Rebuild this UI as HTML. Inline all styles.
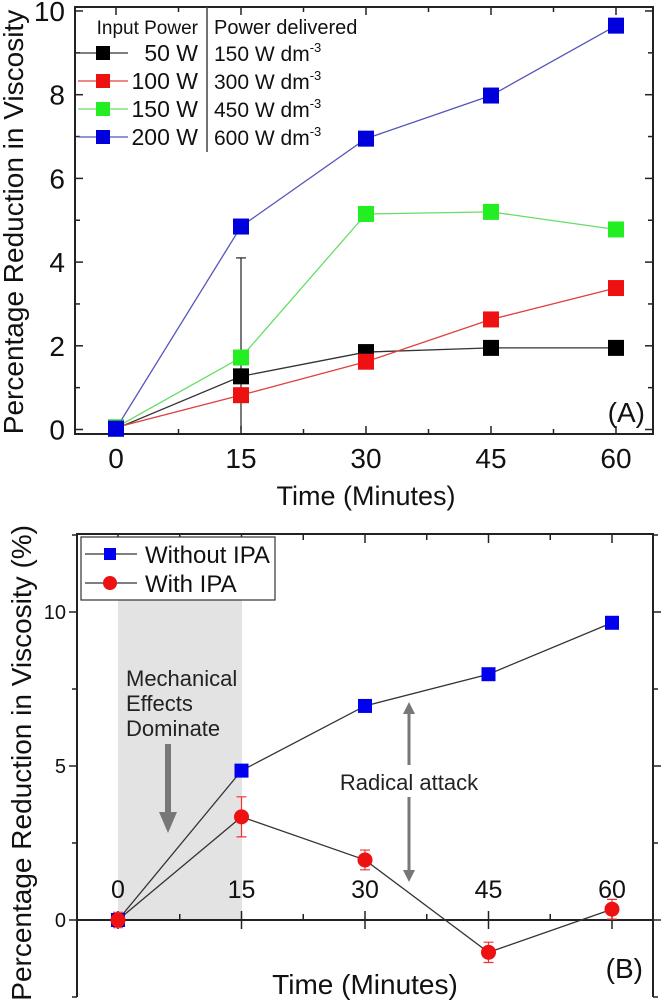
<!DOCTYPE html>
<html><head><meta charset="utf-8"><style>
html,body{margin:0;padding:0;background:#fff}
svg{display:block;font-family:"Liberation Sans",Arial,sans-serif}
</style></head><body>
<svg id="s" width="661" height="1006" viewBox="0 0 661 1006">
<g id="gA"></g>
<g id="gB"></g>
</svg>
<script>
// Chart A data
const timesA = [0, 15, 30, 45, 60];
const w50 = [0.02, 1.27, 1.85, 1.95, 1.95];
const w100 = [0.05, 0.82, 1.62, 2.63, 3.38];
const w150 = [0.05, 1.72, 5.15, 5.2, 4.78];
const w200 = [0.02, 4.85, 6.95, 7.98, 9.65];
const yTicksA = [0, 2, 4, 6, 8, 10];
const xTicks = [0, 15, 30, 45, 60];
// Chart B data
const timesB = [0, 15, 30, 45, 60];
const withoutIPA = [0, 4.85, 6.95, 7.98, 9.65];
const withIPA = [0, 3.35, 1.95, -1.05, 0.35];
const withIPAerr = [0.25, 0.65, 0.32, 0.33, 0.32];
const yTicksB = [0, 5, 10];

const NS = "http://www.w3.org/2000/svg";
function mk(parent, tag, attrs, text){
  const e = document.createElementNS(NS, tag);
  for (const k in attrs) e.setAttribute(k, attrs[k]);
  if (text !== undefined) e.textContent = text;
  parent.appendChild(e);
  return e;
}
// ---------- Chart A ----------
const A = document.getElementById('gA');
const xA = t => 116 + (t/60)*500;
const yA = v => 429.5 - v*41.85;
let e;
e = mk(A,'rect',{x:75,y:7,width:578,height:427,fill:'none',stroke:'#222','stroke-width':2});
 
for (let t=0; t<=67.5; t+=7.5){
  const L = (t%15===0)?8:5;
  e = mk(A,'line',{x1:xA(t),x2:xA(t),y1:434,y2:434-L,stroke:'#222','stroke-width':1.5});
   
  e = mk(A,'line',{x1:xA(t),x2:xA(t),y1:7,y2:7+L,stroke:'#222','stroke-width':1.5});
   
}
for (let v=0; v<=10; v+=1){
  const L = (v%2===0)?8:5;
  e = mk(A,'line',{x1:75,x2:75+L,y1:yA(v),y2:yA(v),stroke:'#222','stroke-width':1.5});
   
  e = mk(A,'line',{x1:653,x2:653-L,y1:yA(v),y2:yA(v),stroke:'#222','stroke-width':1.5});
   
}
yTicksA.forEach(v=>{
  e = mk(A,'text',{x:65,y:yA(v)+10,'font-size':28,'text-anchor':'end',fill:'#111'},String(v));
   
});
xTicks.forEach(t=>{
  e = mk(A,'text',{x:xA(t),y:468,'font-size':28,'text-anchor':'middle',fill:'#111'},String(t));
   
});
e = mk(A,'text',{x:xA(30),y:505,'font-size':27,'text-anchor':'middle',fill:'#111'},'Time (Minutes)');
 
e = mk(A,'text',{x:0,y:0,'font-size':28,'text-anchor':'middle',fill:'#111',transform:'translate(23,222) rotate(-90)'},'Percentage Reduction in Viscosity');
 
e = mk(A,'text',{x:645,y:422,'font-size':28,'text-anchor':'end',fill:'#111'},'(A)');
 
// error bar black at 15
e = mk(A,'line',{x1:xA(15),x2:xA(15),y1:yA(4.1),y2:yA(0),stroke:'#222','stroke-width':1.2});
 
e = mk(A,'line',{x1:xA(15)-5,x2:xA(15)+5,y1:yA(4.1),y2:yA(4.1),stroke:'#222','stroke-width':1.2});
 
const seriesA = [
  {d:w50, line:'#333', fill:'#000', name:'50w'},
  {d:w100, line:'#e04040', fill:'#ee1111', name:'100w'},
  {d:w150, line:'#66dd66', fill:'#22ee22', name:'150w'},
  {d:w200, line:'#5555bb', fill:'#0000dd', name:'200w'}
];
seriesA.forEach(s=>{
  const pts = s.d.map((v,i)=>xA(timesA[i])+','+yA(v)).join(' ');
  e = mk(A,'polyline',{points:pts,fill:'none',stroke:s.line,'stroke-width':1.3});
   
});
seriesA.forEach(s=>{
  s.d.forEach((v,i)=>{
    e = mk(A,'rect',{x:xA(timesA[i])-8,y:yA(v)-8,width:16,height:16,fill:s.fill});
     
  });
});
// legend A
e = mk(A,'line',{x1:207,x2:207,y1:7,y2:152,stroke:'#444','stroke-width':1.5});
 
e = mk(A,'text',{x:198,y:34,'font-size':19,'text-anchor':'end',fill:'#111'},'Input Power');
 
e = mk(A,'text',{x:214,y:34,'font-size':20,fill:'#111'},'Power delivered');
 
const legInput = ['50 W','100 W','150 W','200 W'];
const legDeliv = ['150','300','450','600'];
const legY = [53, 81, 109, 137];
seriesA.forEach((s,i)=>{
  const y = legY[i];
  e = mk(A,'line',{x1:78,x2:128,y1:y,y2:y,stroke:s.line,'stroke-width':1.2});
   
  e = mk(A,'rect',{x:96,y:y-7,width:14,height:14,fill:s.fill});
   
  e = mk(A,'text',{x:198,y:y+8,'font-size':23,'text-anchor':'end',fill:'#111'},legInput[i]);
   
  const t = mk(A,'text',{x:214,y:y+8,'font-size':21,fill:'#111'},legDeliv[i]+' W dm');
   
  const sp = mk(t,'tspan',{dy:-9,'font-size':13},'-3');
   
});
// ---------- Chart B ----------
const B = document.getElementById('gB');
const xB = t => 118 + (t/60)*494;
const yB = v => 920 - v*30.8;
e = mk(B,'rect',{x:118,y:537,width:124,height:383,fill:'#e3e3e3'});
 
e = mk(B,'polyline',{points:'77,997 77,534 653,534 653,997',fill:'none',stroke:'#222','stroke-width':2});
 
e = mk(B,'line',{x1:77,x2:653,y1:yB(0),y2:yB(0),stroke:'#222','stroke-width':2});
 
for (let t=0; t<=67.5; t+=7.5){
  const L=(t%15===0)?9:6;
  e = mk(B,'line',{x1:xB(t),x2:xB(t),y1:yB(0)-L,y2:yB(0)+((t%15===0)?9:0),stroke:'#222','stroke-width':1.5});
   
  e = mk(B,'line',{x1:xB(t),x2:xB(t),y1:534,y2:534+L,stroke:'#222','stroke-width':1.5});
   
}
for (let v=-2.5; v<=12.5; v+=2.5){
  const L=(v%5===0)?8:5;
  e = mk(B,'line',{x1:77,x2:77-L,y1:yB(v),y2:yB(v),stroke:'#222','stroke-width':1.5});
   
  e = mk(B,'line',{x1:653,x2:653+L,y1:yB(v),y2:yB(v),stroke:'#222','stroke-width':1.5});
   
}
yTicksB.forEach(v=>{
  e = mk(B,'text',{x:66,y:yB(v)+7,'font-size':20,'text-anchor':'end',fill:'#111'},String(v));
   
});
xTicks.forEach(t=>{
  e = mk(B,'text',{x:xB(t),y:898,'font-size':25,'text-anchor':'middle',fill:'#111'},String(t));
   
});
e = mk(B,'text',{x:365,y:994,'font-size':28,'text-anchor':'middle',fill:'#111'},'Time (Minutes)');
 
e = mk(B,'text',{x:0,y:0,'font-size':28,'text-anchor':'end',fill:'#111',transform:'translate(31,525) rotate(-90)'},'Percentage Reduction in Viscosity (%)');
 
e = mk(B,'text',{x:643,y:978,'font-size':28,'text-anchor':'end',fill:'#111'},'(B)');
 
// annotations
['Mechanical','Effects','Dominate'].forEach((w,i)=>{
  e = mk(B,'text',{x:126,y:686+i*25,'font-size':22,fill:'#222'},w);
   
});
e = mk(B,'line',{x1:168,x2:168,y1:744,y2:815,stroke:'#777','stroke-width':6});
 
e = mk(B,'polygon',{points:'159,812 177,812 168,833',fill:'#777'});
 
e = mk(B,'text',{x:409,y:790,'font-size':22,'text-anchor':'middle',fill:'#222'},'Radical attack');
 
e = mk(B,'line',{x1:409,x2:409,y1:712,y2:765,stroke:'#777','stroke-width':3});
 
e = mk(B,'polygon',{points:'403,714 415,714 409,702',fill:'#777'});
 
e = mk(B,'line',{x1:409,x2:409,y1:797,y2:872,stroke:'#777','stroke-width':3});
 
e = mk(B,'polygon',{points:'403,870 415,870 409,882',fill:'#777'});
 
// series
e = mk(B,'polyline',{points:withoutIPA.map((v,i)=>xB(timesB[i])+','+yB(v)).join(' '),fill:'none',stroke:'#333','stroke-width':1.3});
 
e = mk(B,'polyline',{points:withIPA.map((v,i)=>xB(timesB[i])+','+yB(v)).join(' '),fill:'none',stroke:'#333','stroke-width':1.3});
 
withIPA.forEach((v,i)=>{
  const x=xB(timesB[i]), y1=yB(v+withIPAerr[i]), y2=yB(v-withIPAerr[i]);
  e = mk(B,'path',{d:`M${x},${y1}V${y2}M${x-5},${y1}H${x+5}M${x-5},${y2}H${x+5}`,stroke:'#e33',fill:'none','stroke-width':1.2});
   
});
withoutIPA.forEach((v,i)=>{
  e = mk(B,'rect',{x:xB(timesB[i])-7,y:yB(v)-7,width:14,height:14,fill:'#0000ee'});
   
});
withIPA.forEach((v,i)=>{
  e = mk(B,'circle',{cx:xB(timesB[i]),cy:yB(v),r:7.5,fill:'#ee1111'});
   
});
// legend B
e = mk(B,'rect',{x:81,y:537,width:194,height:63,fill:'#fff',stroke:'#333','stroke-width':1.2});
 
e = mk(B,'line',{x1:85,x2:137,y1:554,y2:554,stroke:'#333','stroke-width':1.2});
 
e = mk(B,'rect',{x:104,y:548,width:12,height:12,fill:'#0000ee'});
 
e = mk(B,'text',{x:145,y:563,'font-size':24,fill:'#111'},'Without IPA');
 
e = mk(B,'line',{x1:85,x2:137,y1:583,y2:583,stroke:'#333','stroke-width':1.2});
 
e = mk(B,'circle',{cx:110,cy:583,r:7,fill:'#ee1111'});
 
e = mk(B,'text',{x:145,y:592,'font-size':24,fill:'#111'},'With IPA');
 
</script>
</body></html>
